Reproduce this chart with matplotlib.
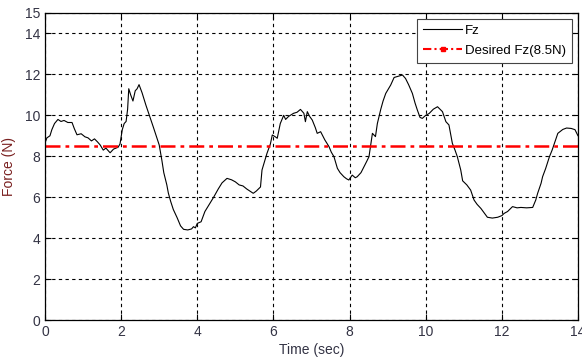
import matplotlib
matplotlib.use("Agg")
import matplotlib.pyplot as plt
from matplotlib.lines import Line2D

time = [0.00, 0.05, 0.13, 0.18, 0.25, 0.34, 0.42, 0.50, 0.60, 0.71, 0.77, 0.84, 0.95, 1.05, 1.13,
        1.22, 1.30, 1.38, 1.45, 1.53, 1.60, 1.71, 1.80, 1.92, 1.97, 2.03, 2.08, 2.13, 2.17, 2.20,
        2.25, 2.31, 2.37, 2.42, 2.47, 2.55, 2.65, 2.76, 2.85, 2.92, 3.00, 3.07, 3.12, 3.20, 3.24,
        3.30, 3.37, 3.47, 3.56, 3.64, 3.75, 3.85, 3.90, 3.95, 4.00, 4.10, 4.20, 4.30, 4.43, 4.55,
        4.65, 4.78, 4.90, 5.00, 5.10, 5.20, 5.30, 5.47, 5.55, 5.66, 5.70, 5.83, 5.92, 5.97, 6.05,
        6.10, 6.18, 6.27, 6.32, 6.40, 6.53, 6.62, 6.71, 6.80, 6.84, 6.89, 6.95, 7.02, 7.10, 7.15,
        7.24, 7.35, 7.46, 7.52, 7.59, 7.68, 7.75, 7.85, 7.92, 7.98, 8.07, 8.15, 8.20, 8.30, 8.38,
        8.45, 8.51, 8.60, 8.68, 8.73, 8.82, 8.88, 8.95, 9.08, 9.17, 9.30, 9.39, 9.47, 9.55, 9.65,
        9.72, 9.78, 9.85, 9.91, 10.00, 10.09, 10.20, 10.31, 10.44, 10.53, 10.61, 10.70, 10.77,
        10.83, 10.92, 10.97, 11.08, 11.18, 11.27, 11.35, 11.45, 11.55, 11.62, 11.75, 11.89, 12.00,
        12.06, 12.15, 12.28, 12.40, 12.50, 12.65, 12.81, 12.89, 12.94, 13.03, 13.07, 13.15, 13.25,
        13.32, 13.38, 13.47, 13.60, 13.70, 13.82, 13.92, 14.00]
fz = [8.65, 8.90, 9.00, 9.30, 9.60, 9.80, 9.70, 9.75, 9.65, 9.65, 9.35, 9.05, 9.10, 8.95, 8.90,
      8.75, 8.85, 8.70, 8.55, 8.30, 8.40, 8.17, 8.35, 8.44, 8.60, 9.30, 9.60, 9.70, 10.30, 11.30,
      11.00, 10.70, 11.20, 11.30, 11.50, 11.10, 10.50, 9.90, 9.40, 9.00, 8.55, 7.80, 7.20, 6.60, 6.20,
      5.80, 5.40, 5.00, 4.60, 4.43, 4.40, 4.45, 4.56, 4.50, 4.72, 4.80, 5.30, 5.60, 6.00, 6.40,
      6.70, 6.92, 6.85, 6.75, 6.60, 6.55, 6.40, 6.19, 6.30, 6.50, 7.33, 8.14, 8.60, 9.04, 8.95,
      8.88, 9.60, 10.00, 9.80, 9.95, 10.10, 10.15, 10.29, 10.10, 9.69, 10.18, 9.95, 9.77, 9.40, 9.12,
      9.20, 8.80, 8.47, 8.20, 7.98, 7.41, 7.20, 7.00, 6.90, 6.84, 7.08, 6.95, 7.00, 7.20, 7.49,
      7.75, 7.98, 9.12, 8.96, 9.60, 10.30, 10.70, 11.07, 11.48, 11.85, 11.92, 11.97, 11.80, 11.50, 11.07,
      10.60, 10.26, 9.90, 9.85, 10.00, 10.09, 10.30, 10.42, 10.18, 9.69, 9.53, 8.63, 8.30,
      7.98, 7.33, 6.80, 6.60, 6.35, 5.86, 5.65, 5.45, 5.20, 5.02, 4.98, 5.02, 5.10,
      5.21, 5.30, 5.54, 5.48, 5.50, 5.48, 5.50, 5.86, 6.19, 6.68, 7.00, 7.40, 7.98,
      8.30, 8.63, 9.12, 9.31, 9.38, 9.36, 9.30, 9.00]
desired_value = 8.5
x_ticks = [0, 2, 4, 6, 8, 10, 12, 14]
y_ticks = [0, 2, 4, 6, 8, 10, 12, 14, 15]

plt.rcParams['font.family'] = ['Liberation Sans', 'DejaVu Sans']

fig = plt.figure(figsize=(5.82, 3.62), dpi=100)
ax = fig.add_axes([45/582, 42/362, 533/582, 307/362])

ax.plot(time, fz, color='black', linewidth=0.8)
ax.axhline(desired_value, color='red', linestyle=(0, (6, 2, 1.5, 2)), linewidth=1.8)

ax.set_xlim(0, 14)
ax.set_ylim(0, 15)
ax.set_xticks(x_ticks)
ax.set_yticks(y_ticks)
ax.grid(True, color='black', linestyle=(0, (3, 3)), linewidth=0.8)
ax.tick_params(direction='in', length=4, top=True, right=True, labelsize=10,
               labelcolor='#333344', color='black')
for s in ax.spines.values():
    s.set_linewidth(0.9)

ax.set_xlabel('Time (sec)', fontsize=10, color='#333344', labelpad=3)
ax.set_ylabel('Force (N)', fontsize=10, color='#7a2020', labelpad=6)

handles = [Line2D([], [], color='black', linewidth=0.8),
           Line2D([], [], color='red', linestyle=(0, (4, 1.5, 1, 1.5)), linewidth=1.5,
                  marker='s', markersize=3)]
leg = ax.legend(handles, ['Fz', 'Desired Fz(8.5N)'], loc='upper right', fontsize=9.5,
                fancybox=False, framealpha=1, edgecolor='#444444', handlelength=3.0,
                borderaxespad=0.45, borderpad=0.45, labelspacing=0.55, handletextpad=0.2)
leg.get_frame().set_linewidth(0.8)

fig.savefig('out.png', dpi=100)
